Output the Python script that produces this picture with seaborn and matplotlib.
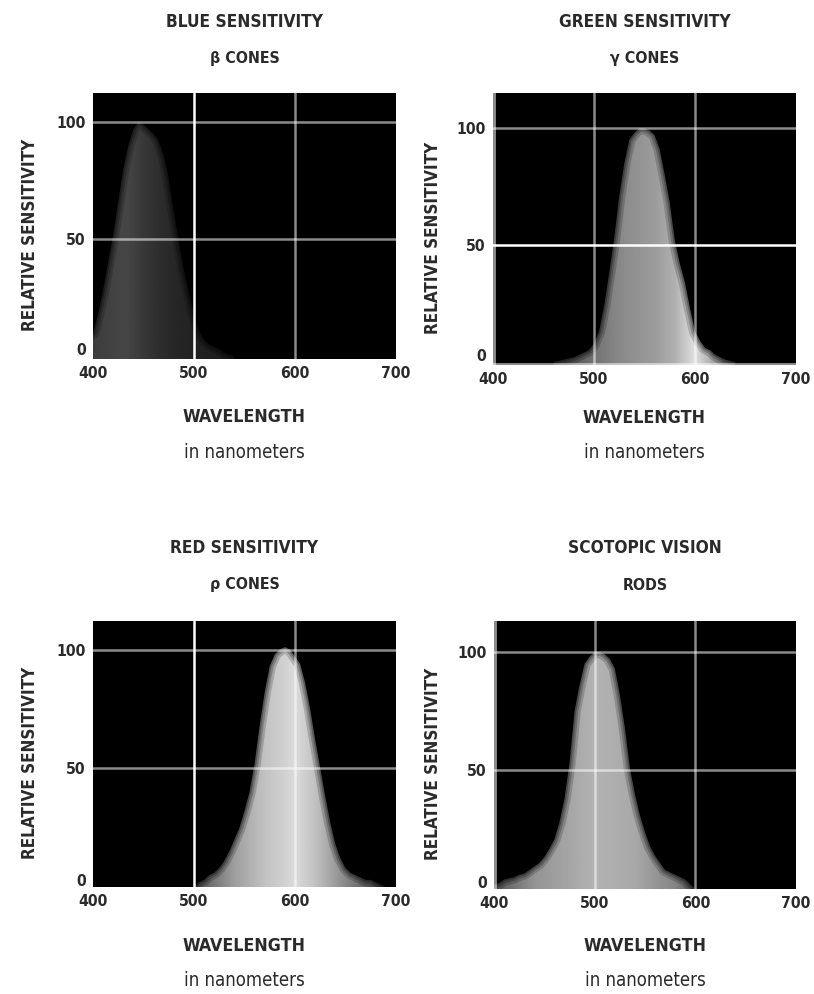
import numpy as np
import matplotlib
matplotlib.use("Agg")
import matplotlib.pyplot as plt
import matplotlib.transforms as mtransforms
from matplotlib import font_manager as fm
import seaborn as sns

# ---------------- data ----------------
blue_wl = [400, 405, 410, 415, 420, 425, 430, 435, 440, 445, 450, 455, 460, 465, 470, 475,
           480, 485, 490, 495, 500, 505, 510, 515, 520, 525, 530, 535, 540]
blue_sens = [10, 18, 28, 40, 52, 66, 80, 90, 97, 100, 99, 97, 95, 92, 86, 76,
             62, 49, 37, 27, 18, 11, 7, 5, 4, 3, 1.5, 0.5, 0]

green_wl = [460, 465, 470, 475, 480, 485, 490, 495, 500, 505, 510, 515, 520, 525, 530, 535,
            540, 545, 550, 555, 560, 565, 570, 575, 580, 585, 590, 595, 600, 605, 610, 615,
            620, 625, 630, 635, 640]
green_sens = [0, 0.5, 1, 1.5, 2, 3, 4, 5, 8, 13, 24, 38, 53, 71, 85, 95,
              98, 100, 100, 99, 97, 91, 80, 68, 52, 42, 34, 23, 13, 9, 6, 5,
              3, 2, 1, 0.5, 0]

red_wl = [500, 505, 510, 515, 520, 525, 530, 535, 540, 545, 550, 555, 560, 565, 570, 575,
          580, 585, 590, 595, 600, 605, 610, 615, 620, 625, 630, 635, 640, 645, 650, 655,
          660, 665, 670, 675, 680, 685, 690]
red_sens = [0, 2, 3, 5, 6, 8, 11, 15, 20, 25, 32, 40, 52, 68, 82, 93,
            98, 100, 101, 100, 97, 94, 86, 75, 62, 50, 38, 27, 18, 12, 8, 6,
            5, 4, 3, 3, 2, 1, 0]

rod_wl = [400, 405, 410, 415, 420, 425, 430, 435, 440, 445, 450, 455, 460, 465, 470, 475,
          480, 485, 490, 495, 500, 505, 510, 515, 520, 525, 530, 535, 540, 545, 550, 555,
          560, 565, 570, 575, 580, 585, 590, 595, 600]
rod_sens = [2, 2.5, 4, 4.5, 5, 6, 6.5, 8, 9.5, 11, 13.5, 17, 21, 28, 38, 53,
            75, 86, 95, 98, 100, 100, 99, 97, 93, 82, 68, 51, 40, 31, 24, 18,
            14, 11, 8, 7, 6, 5, 4, 2, 0]

titles = ["BLUE SENSITIVITY", "GREEN SENSITIVITY", "RED SENSITIVITY", "SCOTOPIC VISION"]
subtitles = ["β CONES", "γ CONES", "ρ CONES", "RODS"]
x_ticks = [400, 500, 600, 700]
y_ticks = [0, 50, 100]
x_label = "WAVELENGTH"
x_sublabel = "in nanometers"
y_label = "RELATIVE SENSITIVITY"

# ---------------- style ----------------
sns.set_theme(style="white")
plt.rcParams["font.family"] = ["DejaVu Sans"]


def pick_font(bold):
    want = 700 if bold else 400
    best = None
    for f in fm.fontManager.ttflist:
        w = f.weight if isinstance(f.weight, int) else (700 if "bold" in str(f.weight) else 400)
        if f.style != "normal":
            continue
        if f.name == "Liberation Sans Narrow" and abs(w - want) < 150:
            return fm.FontProperties(fname=f.fname), 1.0 / 0.74
        if f.name == "DejaVu Sans" and f.stretch == "condensed" and abs(w - want) < 150:
            best = (fm.FontProperties(fname=f.fname), 1.0 / 0.9)
    if best:
        return best
    return fm.FontProperties(family="DejaVu Sans", weight="bold" if bold else "normal"), 1.0


FB, KB = pick_font(True)
FR, KR = pick_font(False)


def fp(base, bold=True):
    p = (FB if bold else FR).copy()
    p.set_size(base * (KB if bold else KR))
    return p


TXT = "#2a2a2a"

W, H = 814, 994
fig = plt.figure(figsize=(W / 100, H / 100), dpi=100)
fig.patch.set_facecolor("white")

boxes = [(93, 93, 396, 359), (493, 93, 796, 365), (93, 621, 396, 887), (494, 621, 796, 889)]
ylims = [(-1.3, 112.4), (-1.3, 115), (0, 112), (0, 113)]
shades = [
    ([400, 425, 435, 450, 470, 500, 540], [0.24, 0.27, 0.27, 0.22, 0.17, 0.13, 0.11]),
    ([460, 500, 520, 540, 560, 580, 600, 615, 640], [0.25, 0.45, 0.52, 0.57, 0.61, 0.69, 0.88, 0.7, 0.3]),
    ([500, 540, 570, 590, 600, 620, 650, 690], [0.32, 0.62, 0.76, 0.82, 0.86, 0.76, 0.54, 0.22]),
    ([400, 440, 480, 500, 540, 580, 600], [0.34, 0.58, 0.66, 0.70, 0.66, 0.52, 0.32]),
]
white_v = [[500], [], [500], []]
white_h = [[], [50], [], []]
gray_spine = [False, True, False, True]
gray_bottom = [False, True, False, False]
series = [(blue_wl, blue_sens), (green_wl, green_sens), (red_wl, red_sens), (rod_wl, rod_sens)]
title_y = [(22, 58), (22, 59), (548, 585), (548, 585)]
xlab_y = [(417, 452), (418, 453), (946, 981), (946, 981)]
ylab_x = [30, 433]

for i, (wl, sens) in enumerate(series):
    l, t, r, b = boxes[i]
    ax = fig.add_axes([l / W, 1 - b / H, (r - l) / W, (b - t) / H])
    ax.set_facecolor("black")
    ax.set_xlim(400, 700)
    ax.set_ylim(*ylims[i])

    poly = ax.fill_between(wl, sens, ylims[i][0] - 5, color="none", lw=0)
    xs = np.linspace(400, 700, 400)
    prof = np.interp(xs, shades[i][0], shades[i][1])
    img = np.tile(prof, (50, 1))
    im = ax.imshow(img, extent=(400, 700, ylims[i][0], ylims[i][1]), aspect="auto",
                   cmap="gray", vmin=0, vmax=1, origin="lower", zorder=1,
                   interpolation="bilinear")
    im.set_clip_path(poly.get_paths()[0], transform=ax.transData)
    for lw, a in [(9, 0.18), (5.5, 0.22), (2.5, 0.3)]:
        sns.lineplot(x=wl, y=sens, ax=ax, color="black", lw=lw, alpha=a, zorder=2)

    for xv in [500, 600]:
        if xv in white_v[i]:
            ax.axvline(xv, color="white", lw=1.8, zorder=3)
        else:
            ax.axvline(xv, color="white", alpha=0.55, lw=1.8, zorder=3)
    for yv in [50, 100]:
        if yv in white_h[i]:
            ax.axhline(yv, color="white", lw=1.8, zorder=3)
        else:
            ax.axhline(yv, color="white", alpha=0.55, lw=1.8, zorder=3)
    for s in ax.spines.values():
        s.set_visible(False)
    if gray_spine[i]:
        ax.axvline(400, color="white", alpha=0.55, lw=3.5, zorder=3)
    if gray_bottom[i]:
        ax.axhline(ylims[i][0], color="white", alpha=0.55, lw=3.5, zorder=3)

    ax.set_xticks(x_ticks)
    ax.set_yticks(y_ticks)
    ax.set_xticklabels([str(v) for v in x_ticks])
    ax.set_yticklabels([str(v) for v in y_ticks])
    ax.tick_params(length=0, labelcolor=TXT, pad=5)
    for lab in ax.get_xticklabels() + ax.get_yticklabels():
        lab.set_fontproperties(fp(10.2))
    zero_lab = ax.get_yticklabels()[0]
    zero_lab.set_transform(zero_lab.get_transform() +
                           mtransforms.ScaledTranslation(0, 7 / 100, fig.dpi_scale_trans))
    ax.set_xlabel("")
    ax.set_ylabel("")
    ax.grid(False)

    cx = (l + r) / 2 / W
    fig.text(cx, 1 - title_y[i][0] / H, titles[i], ha="center", va="center",
             fontproperties=fp(11.2), color=TXT)
    fig.text(cx, 1 - title_y[i][1] / H, subtitles[i], ha="center", va="center",
             fontproperties=fp(10.3), color=TXT)
    fig.text(cx, 1 - xlab_y[i][0] / H, x_label, ha="center", va="center",
             fontproperties=fp(11.5), color=TXT)
    fig.text(cx, 1 - xlab_y[i][1] / H, x_sublabel, ha="center", va="center",
             fontproperties=fp(12, bold=False), color=TXT)
    fig.text(ylab_x[i % 2] / W, 1 - ((t + b) / 2 + 9) / H, y_label, ha="center", va="center",
             rotation=90, fontproperties=fp(11), color=TXT)

fig.savefig("out.png", dpi=100, facecolor="white")
